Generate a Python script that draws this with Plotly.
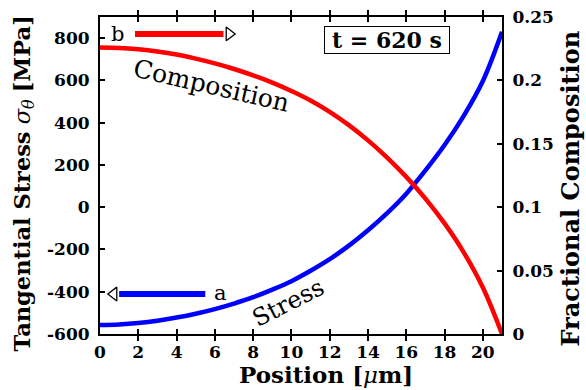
import plotly.graph_objects as go

# ---- data ----
position_um = [0, 1, 2, 3, 4, 5, 6, 7, 8, 9, 10, 11, 12, 13, 14, 15, 16, 17, 18, 19, 20, 21]
stress_mpa = [-558, -555, -548, -537, -522, -504, -482, -456, -426, -390, -350, -301,
              -246, -182, -109, -28, 64, 174, 294, 432, 597, 830]
composition = [0.2260, 0.2256, 0.2245, 0.2228, 0.2204, 0.2172, 0.2134, 0.2090, 0.2040,
               0.1983, 0.1917, 0.1842, 0.1752, 0.1647, 0.1527, 0.1391, 0.1239, 0.1068,
               0.0872, 0.0644, 0.0366, 0.0]

x_ticks = [0, 2, 4, 6, 8, 10, 12, 14, 16, 18, 20]
y_left_ticks = [-600, -400, -200, 0, 200, 400, 600, 800]
y_left_text = ["-600", "-400", "-200", "0", "200", "400", "600", "800"]
y_right_ticks = [0, 0.05, 0.1, 0.15, 0.2, 0.25]
y_right_text = ["0", "0.05", "0.1", "0.15", "0.2", "0.25"]

# annotation arrows (position in data units of the left axis)
arrow_b = dict(x0=1.83, x1=6.45, head=6.75, y=820)
arrow_a = dict(x0=5.5, x1=1.0, head=0.72, y=-411)

SERIF = "DejaVu Serif"
BLUE = "#0000ff"
RED = "#ff0000"

fig = go.Figure()

# arrows
fig.add_trace(go.Scatter(x=[arrow_b["x0"], arrow_b["x1"]], y=[arrow_b["y"], arrow_b["y"]],
                         mode="lines", line=dict(color=RED, width=6), yaxis="y",
                         showlegend=False, hoverinfo="skip"))
fig.add_trace(go.Scatter(x=[arrow_b["head"]], y=[arrow_b["y"]], mode="markers",
                         marker=dict(symbol="triangle-right", size=12, color="white",
                                     line=dict(color="black", width=1.3)),
                         yaxis="y", showlegend=False, hoverinfo="skip"))
fig.add_trace(go.Scatter(x=[arrow_a["x0"], arrow_a["x1"]], y=[arrow_a["y"], arrow_a["y"]],
                         mode="lines", line=dict(color=BLUE, width=6), yaxis="y",
                         showlegend=False, hoverinfo="skip"))
fig.add_trace(go.Scatter(x=[arrow_a["head"]], y=[arrow_a["y"]], mode="markers",
                         marker=dict(symbol="triangle-left", size=12, color="white",
                                     line=dict(color="black", width=1.3)),
                         yaxis="y", showlegend=False, hoverinfo="skip"))

# curves
fig.add_trace(go.Scatter(x=position_um, y=stress_mpa, mode="lines",
                         line=dict(color=BLUE, width=4.5, shape="spline", smoothing=1),
                         yaxis="y", showlegend=False, name="Stress"))
fig.add_trace(go.Scatter(x=position_um, y=composition, mode="lines",
                         line=dict(color=RED, width=4.5, shape="spline", smoothing=1),
                         yaxis="y2", showlegend=False, name="Composition"))

tickfont = dict(family=SERIF, size=17, color="black", weight="bold")
axis_common = dict(showline=True, linecolor="black", linewidth=2, ticks="inside",
                   ticklen=5, tickwidth=1.5, tickcolor="black", showgrid=False,
                   zeroline=False, tickfont=tickfont, automargin=False)

fig.update_layout(
    width=586, height=390,
    margin=dict(l=100, r=84, t=17, b=56, autoexpand=False),
    paper_bgcolor="white", plot_bgcolor="white",
    showlegend=False,
    xaxis=dict(range=[0, 21], tickvals=x_ticks, mirror="allticks",
               ticklabelstandoff=2, **axis_common),
    yaxis=dict(range=[-600, 900], tickvals=y_left_ticks, ticktext=y_left_text,
               ticklabelstandoff=5, **axis_common),
    yaxis2=dict(range=[0, 0.25], tickvals=y_right_ticks, ticktext=y_right_text,
                overlaying="y", side="right", ticklabelstandoff=5, **axis_common),
)

fig.add_annotation(text="<b>Tangential Stress</b> <i>σ</i><sub><i>θ</i></sub> <b>[MPa]</b>",
                   xref="paper", yref="paper", x=-0.189, y=0.475, textangle=-90,
                   showarrow=False, font=dict(family=SERIF, size=22.5, color="black"),
                   xanchor="center", yanchor="middle")
fig.add_annotation(text="<b>Fractional Composition</b>",
                   xref="paper", yref="paper", x=1.17, y=0.46, textangle=-90,
                   showarrow=False, font=dict(family=SERIF, size=24, color="black"),
                   xanchor="center", yanchor="middle")
fig.add_annotation(text="<b>Position [</b><i>μ</i><b>m]</b>",
                   xref="paper", yref="paper", x=0.562, y=-0.128,
                   showarrow=False, font=dict(family=SERIF, size=23, color="black"),
                   xanchor="center", yanchor="middle")

fig.add_annotation(text="Composition", x=5.8, y=578, xref="x", yref="y", textangle=13,
                   showarrow=False, font=dict(family=SERIF, size=25, color="black"))
fig.add_annotation(text="Stress", x=9.82, y=-453, xref="x", yref="y", textangle=-27,
                   showarrow=False, font=dict(family=SERIF, size=24, color="black"))
fig.add_annotation(text="b", x=0.89, y=820, xref="x", yref="y",
                   showarrow=False, font=dict(family=SERIF, size=21, color="black"))
fig.add_annotation(text="a", x=6.27, y=-406, xref="x", yref="y",
                   showarrow=False, font=dict(family=SERIF, size=21, color="black"))
fig.add_annotation(text="&nbsp;<b>t = 620 s</b>&nbsp;", x=14.99, y=793, xref="x", yref="y",
                   showarrow=False, font=dict(family=SERIF, size=22, color="black"),
                   bordercolor="black", borderwidth=1, borderpad=0, bgcolor="white")

fig.write_html("out.html", config={"displayModeBar": False},
               post_script="document.body.style.margin='0px';")
